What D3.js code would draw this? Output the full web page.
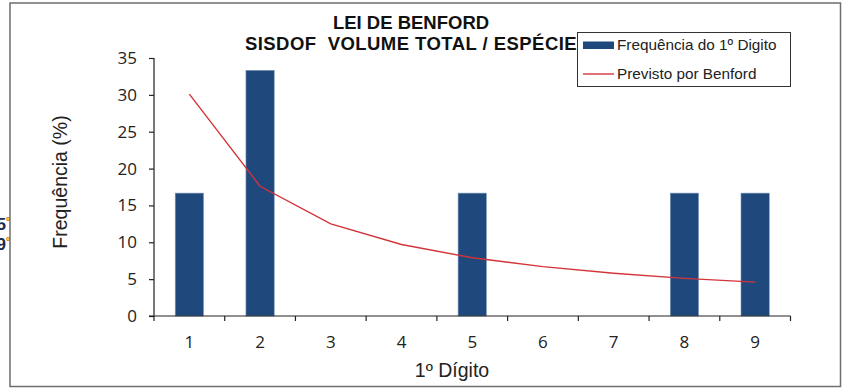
<!DOCTYPE html>
<html><head><meta charset="utf-8">
<script src="https://cdn.jsdelivr.net/npm/d3@7"></script>
<style>
html,body{margin:0;padding:0;background:#fff;}
svg{display:block;font-family:"Liberation Sans",Arial,sans-serif;}
text{white-space:pre;}
</style></head>
<body>
<svg id="c" width="848" height="389"></svg>
<script>
const digits = ["1","2","3","4","5","6","7","8","9"];
const observed = [16.67, 33.33, 0, 0, 16.67, 0, 0, 16.67, 16.67];
const benford = [30.1, 17.6, 12.5, 9.7, 7.9, 6.7, 5.8, 5.1, 4.6];
const yTicks = [0, 5, 10, 15, 20, 25, 30, 35];
const titleLines = ["LEI DE BENFORD", "SISDOF  VOLUME TOTAL / ESPÉCIE"];
const legendLabels = ["Frequência do 1º Digito", "Previsto por Benford"];
const strayLabels = ["5", "9"];

const svg = d3.select("#c");
const barColor = "#1f497d", lineColor = "#d3343a";

// stray clipped cell text on the left (partly hidden behind the chart frame)
strayLabels.forEach((t, i) => {
  const tx = svg.append("text").attr("x", 10).attr("y", 230 + i * 20).attr("text-anchor", "end")
    .attr("font-size", 17).attr("font-weight", "bold").attr("fill", "#1a2a50");
  tx.append("tspan").text(t);
  tx.append("tspan").attr("fill", "#d08020").attr("font-size", 11).attr("dy", -5).text("º");
});

// frame
svg.append("rect").attr("x", 10).attr("y", 3).attr("width", 830.5).attr("height", 383.5)
  .attr("fill", "#fff").attr("stroke", "#6e6e6e").attr("stroke-width", 1.5);

const x = d3.scaleBand().domain(digits).range([154, 790.5]).paddingInner(0).paddingOuter(0);
const y = d3.scaleLinear().domain([0, 35]).range([316, 58]);
const bw = x.bandwidth() * 0.4;

// bars
svg.append("g").selectAll("rect").data(digits.map((d, i) => ({d, v: observed[i]})).filter(o => o.v > 0))
  .join("rect")
  .attr("x", o => x(o.d) + (x.bandwidth() - bw) / 2)
  .attr("y", o => y(o.v))
  .attr("width", bw)
  .attr("height", o => y(0) - y(o.v))
  .attr("fill", barColor)
  .attr("stroke", "#7f98bb").attr("stroke-width", 0.6);

// line
const line = d3.line().x((v, i) => x(digits[i]) + x.bandwidth() / 2).y(v => y(v));
svg.append("path").datum(benford).attr("d", line).attr("fill", "none")
  .attr("stroke", lineColor).attr("stroke-width", 1.4);

// y axis
const ya = svg.append("g").attr("transform", "translate(154,0)")
  .call(d3.axisLeft(y).tickValues(yTicks).tickSize(5).tickPadding(12));
ya.selectAll("path,line").attr("stroke", "#222").attr("stroke-width", 1.2);
ya.selectAll("text").attr("font-size", 17).attr("fill", "#222")
  .attr("font-family", "'Open Sans','Liberation Sans',sans-serif");
ya.select(".domain").attr("d", "M-5,58.5H0V316");

// x axis
const xa = svg.append("g").attr("transform", "translate(0,316)");
xa.append("line").attr("x1", 149).attr("x2", x.range()[1]).attr("y1", 0).attr("y2", 0)
  .attr("stroke", "#222").attr("stroke-width", 1.2);
const bounds = digits.map(d => x(d)).concat([x.range()[1]]);
xa.selectAll("line.tk").data(bounds).join("line").attr("class", "tk")
  .attr("x1", d => d).attr("x2", d => d).attr("y1", 0).attr("y2", 5)
  .attr("stroke", "#222").attr("stroke-width", 1.2);
xa.selectAll("text").data(digits).join("text")
  .attr("x", d => x(d) + x.bandwidth() / 2).attr("y", 32).attr("text-anchor", "middle")
  .attr("font-size", 17).attr("fill", "#222")
  .attr("font-family", "'Open Sans','Liberation Sans',sans-serif").text(d => d);

// axis titles
svg.append("text").attr("x", 452).attr("y", 377).attr("text-anchor", "middle")
  .attr("font-size", 19.5).attr("fill", "#222").text("1º Dígito");
svg.append("text").attr("transform", "translate(67,182) rotate(-90)").attr("text-anchor", "middle")
  .attr("font-size", 19.5).attr("fill", "#222").text("Frequência (%)");

// title
svg.selectAll("text.title").data(titleLines).join("text").attr("class", "title")
  .attr("x", 411).attr("y", (d, i) => 29 + i * 21).attr("text-anchor", "middle")
  .attr("font-size", 18.5).attr("font-weight", "bold").attr("fill", "#111")
  .attr("letter-spacing", (d, i) => i === 1 ? 0.45 : 0).text(d => d);

// legend
const lg = svg.append("g");
lg.append("rect").attr("x", 577.5).attr("y", 32.5).attr("width", 213).attr("height", 54)
  .attr("fill", "#fff").attr("stroke", "#333").attr("stroke-width", 1);
lg.append("rect").attr("x", 583).attr("y", 41.5).attr("width", 31).attr("height", 7.5).attr("fill", barColor);
lg.append("line").attr("x1", 583).attr("x2", 614).attr("y1", 74).attr("y2", 74)
  .attr("stroke", lineColor).attr("stroke-width", 1.4);
lg.selectAll("text").data(legendLabels).join("text")
  .attr("x", 617).attr("y", (d, i) => 50 + i * 29).attr("font-size", 15.3).attr("fill", "#222").text(d => d);
</script>
</body></html>
